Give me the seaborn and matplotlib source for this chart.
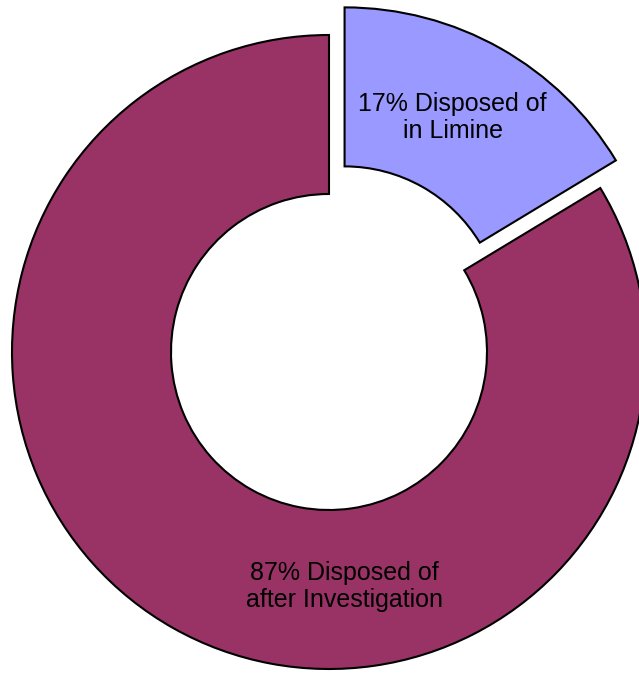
import matplotlib
matplotlib.use("Agg")
import matplotlib.pyplot as plt
import seaborn as sns

# Case disposal shares
categories = ["Disposed of\nin Limine", "Disposed of\nafter Investigation"]
shares = [17, 87]
slice_colors = ["#9999FF", "#993366"]

sns.set_theme(style="white")
plt.rcParams["font.family"] = ["Liberation Sans", "DejaVu Sans"]

W, H = 639, 673
fig = plt.figure(figsize=(W / 100, H / 100), dpi=100)
ax = fig.add_axes([0, 0, 1, 1])

cx, cy = 329, 321
radius = 317
ring = 159
# pie() offsets exploded wedges in data units
pull_out = [0.1 * radius, 0.0]

wedges, _ = ax.pie(
    shares,
    colors=slice_colors,
    startangle=90,
    counterclock=False,
    explode=pull_out,
    center=(cx, cy),
    radius=radius,
    frame=True,
    wedgeprops=dict(width=ring, edgecolor="black", linewidth=1.5),
)
ax.set_xlim(0, W)
ax.set_ylim(0, H)
ax.set_aspect("equal")
ax.axis("off")

label_pos = [(cx + 0.39 * radius, cy + 0.74 * radius),
             (cx + 0.05 * radius, cy - 0.74 * radius)]
for val, cat, (lx, ly) in zip(shares, categories, label_pos):
    first, second = cat.split("\n")
    ax.text(lx, ly, f"{val}% {first}\n{second}", ha="center", va="center",
            fontsize=18, color="black", linespacing=1.2)

fig.savefig("out.png", dpi=100)
